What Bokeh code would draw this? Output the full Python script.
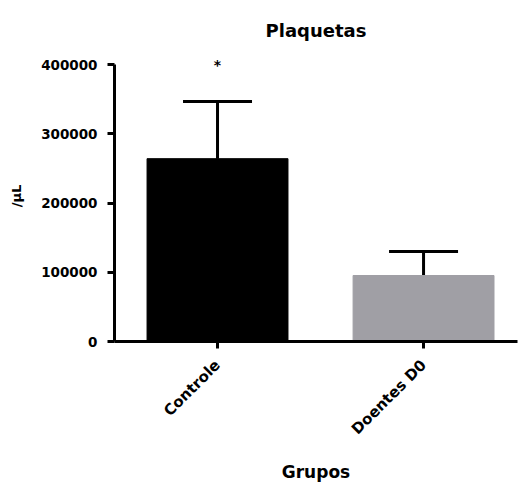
import math
from bokeh.plotting import figure
from bokeh.models import (ColumnDataSource, Whisker, TeeHead, Label, Range1d,
                          NumeralTickFormatter)
from bokeh.embed import file_html
from bokeh.resources import INLINE

# ---- data ----
categories = ["Controle", "Doentes D0"]
means = [264000, 95300]
sds = [82500, 34700]
bar_colors = ["#000000", "#a09fa5"]
signif = ["*", ""]
y_ticks = [0, 100000, 200000, 300000, 400000]
y_axis_max = 400000

xs = [i + 1 for i in range(len(categories))]
tops = [m + s for m, s in zip(means, sds)]
src = ColumnDataSource(dict(x=xs, mean=means, top=tops, color=bar_colors))

FONT = "DejaVu Sans"

p = figure(width=520, height=484, output_backend="svg", toolbar_location=None,
           x_range=Range1d(0.5, 2.456), y_range=Range1d(0, y_axis_max * 291 / 277),
           min_border_left=114, min_border_right=3, min_border_top=50,
           min_border_bottom=143)
p.outline_line_color = None
p.grid.visible = False
p.background_fill_color = "white"
p.border_fill_color = "white"

p.vbar(x="x", top="mean", bottom=0, width=0.684, fill_color="color",
       line_color="color", source=src)

wh = Whisker(source=src, base="x", lower="mean", upper="top",
             line_width=3, line_color="black",
             upper_head=TeeHead(size=69, line_width=3, line_color="black"),
             lower_head=None)
p.add_layout(wh)

for xv, tv, s in zip(xs, tops, signif):
    if s:
        p.add_layout(Label(x=xv, y=tv, text=s, y_offset=29, text_align="center",
                           text_font=FONT, text_font_size="14px",
                           text_font_style="bold", text_color="black"))

# title
p.title.text = "Plaquetas"
p.title.align = "center"
p.title.text_font = FONT
p.title.text_font_size = "18px"
p.title.text_font_style = "bold"
p.title.text_color = "black"
p.title.standoff = 20

# y axis
ya = p.yaxis[0]
ya.ticker = y_ticks
ya.bounds = (0, y_axis_max)
ya.formatter = NumeralTickFormatter(format="0")
ya.axis_label = "/μL"
ya.axis_label_text_font_size = "13px"
ya.axis_label_standoff = 14
ya.major_label_text_font_size = "13.5px"
ya.major_label_standoff = 10

# x axis
xa = p.xaxis[0]
xa.ticker = xs
xa.major_label_overrides = {x: c for x, c in zip(xs, categories)}
xa.major_label_orientation = math.pi / 4
xa.axis_label = "Grupos"
xa.axis_label_text_font_size = "17px"
xa.axis_label_standoff = 14
xa.major_label_text_font_size = "15px"
xa.major_label_standoff = 14

for ax in (xa, ya):
    ax.axis_line_width = 3
    ax.axis_line_color = "black"
    ax.major_tick_line_width = 3
    ax.major_tick_line_color = "black"
    ax.major_tick_out = 7
    ax.major_tick_in = 0
    ax.minor_tick_line_color = None
    ax.axis_label_text_color = "black"
    ax.major_label_text_color = "black"
    ax.axis_label_text_font = FONT
    ax.axis_label_text_font_style = "bold"
    ax.major_label_text_font = FONT
    ax.major_label_text_font_style = "bold"

open("out.html", "w").write(file_html(p, INLINE))
